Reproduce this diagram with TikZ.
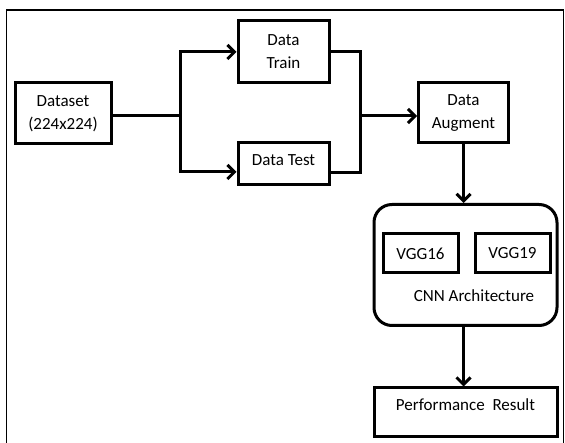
\documentclass[tikz,border=0pt]{standalone}
\usepackage{fontspec}
\setmainfont{Carlito}
\usetikzlibrary{arrows.meta}

\tikzset{
  box/.style={draw, line width=3pt, align=center, inner sep=0pt,
              font=\fontsize{17}{23}\selectfont},
  conn/.style={line width=3pt, line join=miter},
  arr/.style={conn, -{Straight Barb[length=7pt,width=14pt,line width=3pt]}}
}

\begin{document}
\begin{tikzpicture}[x=1pt,y=-1pt] % pixel-like units, y going down
  \useasboundingbox (0,0) rectangle (565,443);
  % outer frame
  \draw[line width=1.3pt] (6.5,450) -- (6.5,10) -- (563.5,10) -- (563.5,450);

  % input and splitting
  \node[box, minimum width=96pt, minimum height=61pt] (dataset) at (63,113.5) {Dataset\\(224x224)};
  \node[box, minimum width=91pt, minimum height=62pt] (train) at (283.5,52) {Data\\Train};
  \node[box, minimum width=91pt, minimum height=42pt] (test) at (283.5,164) {Data Test\\[-16pt]};
  \node[box, minimum width=90pt, minimum height=60pt] (augment) at (463.5,113) {Data\\Augment};

  % models
  \node[box, rounded corners=18pt, minimum width=183pt, minimum height=121pt] (cnn) at (465.5,265) {};
  \node[box, minimum width=75pt, minimum height=39pt] (vgg16) at (420.5,253.5) {VGG16};
  \node[box, minimum width=75pt, minimum height=39pt] (vgg19) at (512.5,253.5) {VGG19};
  \node[font=\fontsize{17}{23}\selectfont] (cnnlabel) at (474,296) {CNN Architecture};

  \node[box, minimum width=183pt, minimum height=49pt] (perf) at (465.5,412.5) {Performance~ Result\\[-8pt]};

  % connectors
  \coordinate (split) at (180,116);
  \coordinate (merge) at (360,116);
  \draw[conn] (dataset.east |- split) -- (split);
  \draw[arr] (split) |- (train.west);
  \draw[arr] (split) |- ([yshift=-8pt]test.west);
  \draw[conn] (train.east) -| (merge);
  \draw[conn] ([yshift=-8.5pt]test.east) -| (merge);
  \draw[arr] (merge) -- (augment.west |- merge);
  \draw[arr] (augment.south) -- (augment.south |- cnn.north);
  \draw[arr] (augment.south |- cnn.south) -- (augment.south |- perf.north);
\end{tikzpicture}
\end{document}
